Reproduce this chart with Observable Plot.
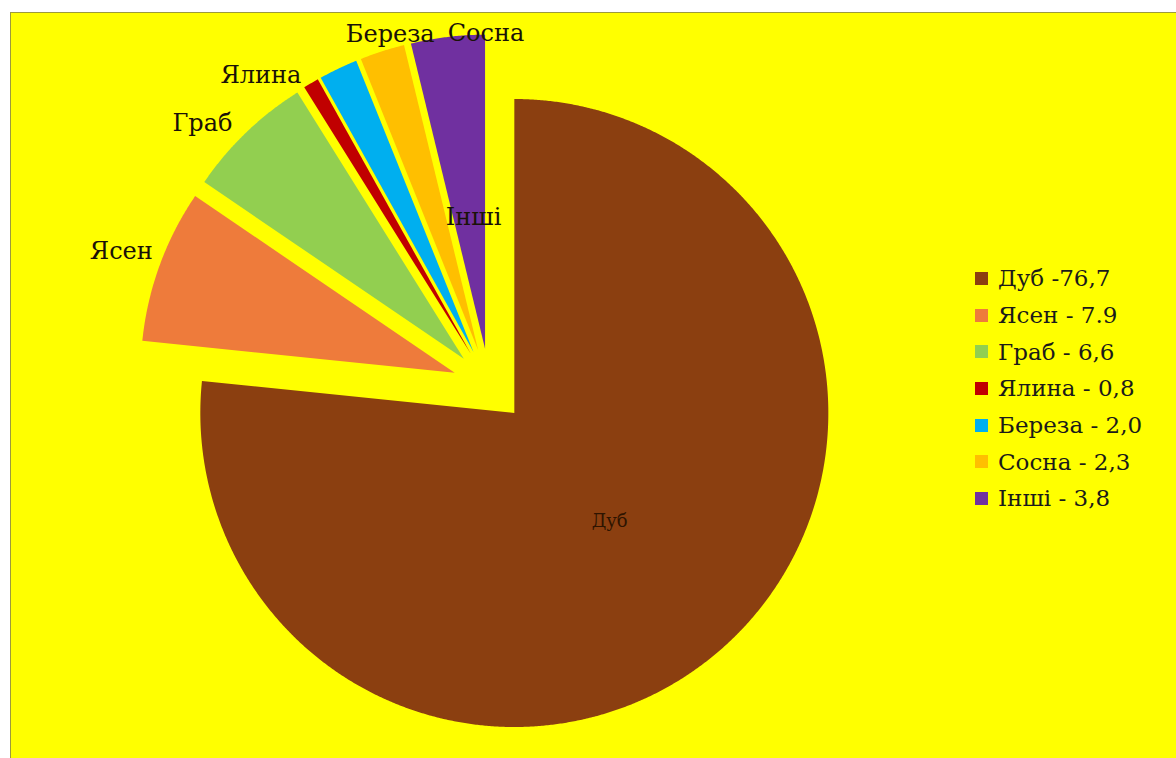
<!DOCTYPE html>
<html>
<head>
<meta charset="utf-8">
<script src="https://cdn.jsdelivr.net/npm/d3@7"></script>
<script src="https://cdn.jsdelivr.net/npm/@observablehq/plot@0.6"></script>
<style>
  html, body { margin: 0; padding: 0; background: #ffffff; }
  #wrap { position: relative; width: 1176px; height: 758px; overflow: hidden; }
  #frame { position: absolute; left: 10px; top: 12px; width: 1180px; height: 760px;
           background: #FFFF00; border-left: 1px solid #9c9a3c; border-top: 1px solid #9c9a3c; }
  #chart { position: absolute; left: 0; top: 0; }
  #legend { position: absolute; left: 975px; top: 260px; font-family: "DejaVu Serif", serif;
            font-size: 23px; color: #1a1a1a; }
  .row { display: flex; align-items: center; height: 36.7px; }
  .sw { width: 13px; height: 13px; margin-right: 10px; }
</style>
</head>
<body>
<div id="wrap">
  <div id="frame"></div>
  <div id="chart"></div>
  <div id="legend"></div>
</div>
<script>
// ---- data ----
const categories = ["Дуб", "Ясен", "Граб", "Ялина", "Береза", "Сосна", "Інші"];
const values = [76.7, 7.9, 6.6, 0.8, 2.0, 2.3, 3.8];
const colors = ["#8B3F10", "#EE7B3B", "#92CF50", "#C00000", "#00AFEF", "#FFBF00", "#7030A0"];
const legendLabels = ["Дуб -76,7", "Ясен - 7.9", "Граб - 6,6", "Ялина - 0,8", "Береза - 2,0", "Сосна - 2,3", "Інші - 3,8"];

// ---- layout (pie in radius units) ----
const W = 1176, H = 758;
const R = 314;            // pixels per radius unit
const cx = 489, cy = 385; // pie center in pixels
const explode = 0.118;    // radial explosion of each slice
// label placement: angle (deg, clockwise from top) and radius from each slice's own center
const labelPlace = {
  "Дуб":   [138.7, 0.46],
  "Ясен":  [290, 1.13],
  "Граб":  [312, 1.12],
  "Ялина": [323, 1.11],
  "Береза":[345.3, 1.045],
  "Сосна": [1.4, 1.01],
  "Інші":  [355, 0.42]
};

const total = d3.sum(values);
let cum = 0;
const slices = categories.map((c, i) => {
  const a0 = cum / total * 2 * Math.PI;
  cum += values[i];
  const a1 = cum / total * 2 * Math.PI;
  const mid = (a0 + a1) / 2;
  return {c, a0, a1, ox: explode * Math.sin(mid), oy: explode * Math.cos(mid)};
});

const points = [];
for (const s of slices) {
  points.push({c: s.c, x: s.ox, y: s.oy});
  const n = Math.max(2, Math.ceil((s.a1 - s.a0) / 0.005));
  for (let k = 0; k <= n; k++) {
    const a = s.a0 + (s.a1 - s.a0) * k / n;
    points.push({c: s.c, x: s.ox + Math.sin(a), y: s.oy + Math.cos(a)});
  }
  points.push({c: s.c, x: s.ox, y: s.oy});
}

const labels = slices.map(s => {
  const [deg, rr] = labelPlace[s.c];
  const a = deg * Math.PI / 180;
  return {c: s.c, x: s.ox + rr * Math.sin(a), y: s.oy + rr * Math.cos(a)};
});

const plot = Plot.plot({
  width: W, height: H, margin: 0,
  x: {domain: [-cx / R, (W - cx) / R], axis: null},
  y: {domain: [-(H - cy) / R, cy / R], axis: null},
  color: {domain: categories, range: colors},
  style: {background: "transparent", overflow: "visible"},
  marks: [
    Plot.line(points, {x: "x", y: "y", z: "c", fill: "c", stroke: "none"}),
    Plot.text(labels.filter(d => d.c !== "Дуб"), {x: "x", y: "y", text: "c",
      fontFamily: "DejaVu Serif", fontSize: 24, fill: "#1a1208", textAnchor: "middle", lineAnchor: "middle"}),
    Plot.text(labels.filter(d => d.c === "Дуб"), {x: "x", y: "y", text: "c",
      fontFamily: "DejaVu Serif", fontSize: 18, fill: "#2e1400", textAnchor: "middle", lineAnchor: "middle"})
  ]
});
document.getElementById("chart").appendChild(plot);

const legend = document.getElementById("legend");
categories.forEach((c, i) => {
  const row = document.createElement("div");
  row.className = "row";
  const sw = document.createElement("div");
  sw.className = "sw";
  sw.style.background = colors[i];
  const t = document.createElement("span");
  t.textContent = legendLabels[i];
  row.appendChild(sw);
  row.appendChild(t);
  legend.appendChild(row);
});
</script>
</body>
</html>
